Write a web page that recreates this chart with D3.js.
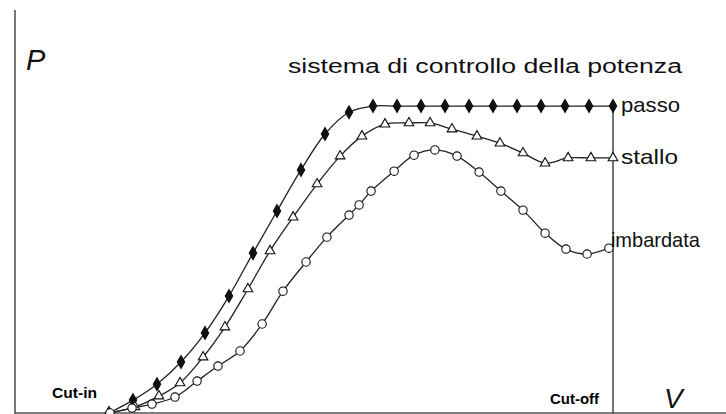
<!DOCTYPE html>
<html>
<head>
<meta charset="utf-8">
<script src="https://cdn.jsdelivr.net/npm/d3@7"></script>
<style>
  body { margin: 0; background: #fff; }
  svg { display: block; font-family: "Liberation Sans", Arial, sans-serif; }
</style>
</head>
<body>
<div id="chart"></div>
<script>
// wind speed V (arbitrary units) and power P (fraction of rated)
var vCutIn = 4;
var vCutOff = 25;

var passoV = [4, 5, 6, 7, 8, 9, 10, 11, 12, 13, 14, 15, 16, 17, 18, 19, 20, 21, 22, 23, 24, 25];
var passoP = [0, 0.042, 0.094, 0.166, 0.261, 0.381, 0.521, 0.658, 0.792, 0.909, 0.98, 1, 1, 1, 1, 1, 1, 1, 1, 1, 1, 1];

var stalloV = [4, 5.08, 6.08, 6.96, 7.92, 8.83, 9.79, 10.71, 11.67, 12.67, 13.63, 14.54, 15.5, 16.5, 17.38, 18.29, 19.33, 20.29, 21.25, 22.17, 23.13, 24.08, 25];
var stalloP = [0, 0.02, 0.055, 0.098, 0.182, 0.28, 0.404, 0.528, 0.638, 0.746, 0.837, 0.902, 0.941, 0.945, 0.945, 0.925, 0.902, 0.879, 0.847, 0.814, 0.831, 0.831, 0.831];

var imbV = [4.04, 4.96, 5.79, 6.75, 7.67, 8.54, 9.46, 10.38, 11.25, 12.21, 13.08, 14.0, 14.42, 14.92, 15.88, 16.71, 17.58, 18.5, 19.42, 20.33, 21.25, 22.17, 23.04, 23.92, 24.83];
var imbP = [0, 0.016, 0.029, 0.052, 0.104, 0.153, 0.202, 0.29, 0.397, 0.492, 0.573, 0.645, 0.678, 0.723, 0.788, 0.84, 0.857, 0.837, 0.785, 0.723, 0.661, 0.586, 0.534, 0.518, 0.537];

var seriesNames = ["passo", "stallo", "imbardata"];

var svgWidth = 726;
var svgHeight = 414;

var svg = d3.select("#chart")
  .append("svg")
  .attr("width", svgWidth)
  .attr("height", svgHeight);

var x = d3.scaleLinear().domain([0, 30]).range([13, 733]);
var y = d3.scaleLinear().domain([0, 1.3]).range([413, 14]);

// axes (plain lines, no ticks)
svg.append("line")
  .attr("x1", 15).attr("x2", 15)
  .attr("y1", 10).attr("y2", svgHeight)
  .attr("stroke", "#777").attr("stroke-width", 2);
svg.append("line")
  .attr("x1", 15).attr("x2", svgWidth)
  .attr("y1", y(0)).attr("y2", y(0))
  .attr("stroke", "#555").attr("stroke-width", 1.5);

// cut-off line
svg.append("line")
  .attr("x1", x(vCutOff)).attr("x2", x(vCutOff))
  .attr("y1", y(1)).attr("y2", svgHeight)
  .attr("stroke", "#444").attr("stroke-width", 1.5);

function zip(vs, ps) {
  return vs.map(function(v, i) { return { v: v, p: ps[i] }; });
}

var series = [
  { name: seriesNames[0], data: zip(passoV, passoP), symbol: d3.symbolDiamond, size: 48, fill: "#111", dx: 8, dy: 6, len: 59 },
  { name: seriesNames[1], data: zip(stalloV, stalloP), symbol: d3.symbolTriangle, size: 40, fill: "#fff", dx: 8, dy: 6, len: 57 },
  { name: seriesNames[2], data: zip(imbV, imbP), symbol: d3.symbolCircle, size: 55, fill: "#fff", dx: 2, dy: -1, len: 89 }
];

var line = d3.line()
  .x(d => x(d.v))
  .y(d => y(d.p))
  .curve(d3.curveCatmullRom.alpha(0.5));

series.forEach(function(s) {
  svg.append("path")
    .datum(s.data)
    .attr("d", line)
    .attr("fill", "none")
    .attr("stroke", "#222")
    .attr("stroke-width", 1.3);

  svg.selectAll(null)
    .data(s.data)
    .enter()
    .append("path")
    .attr("d", d3.symbol().type(s.symbol).size(s.size))
    .attr("transform", d => `translate(${x(d.v)}, ${y(d.p)})`)
    .attr("fill", s.fill)
    .attr("stroke", "#111")
    .attr("stroke-width", 1.1);

  var last = s.data[s.data.length - 1];
  svg.append("text")
    .attr("x", x(last.v) + s.dx)
    .attr("y", y(last.p) + s.dy)
    .attr("font-size", 21)
    .attr("textLength", s.len)
    .attr("lengthAdjust", "spacingAndGlyphs")
    .attr("fill", "#111")
    .text(s.name);
});

// titles
svg.append("text")
  .attr("x", 288).attr("y", 73)
  .attr("font-size", 20)
  .attr("textLength", 394)
  .attr("lengthAdjust", "spacingAndGlyphs")
  .attr("fill", "#111")
  .text("sistema di controllo della potenza");

svg.append("text")
  .attr("x", 26).attr("y", 70)
  .attr("font-size", 29)
  .attr("font-style", "italic")
  .attr("fill", "#111")
  .text("P");

svg.append("text")
  .attr("x", 664).attr("y", 408)
  .attr("font-size", 28)
  .attr("font-style", "italic")
  .attr("fill", "#111")
  .text("V");

svg.append("text")
  .attr("x", 52).attr("y", 398)
  .attr("font-size", 15)
  .attr("font-weight", "bold")
  .attr("textLength", 45)
  .attr("lengthAdjust", "spacingAndGlyphs")
  .text("Cut-in");

svg.append("text")
  .attr("x", 550).attr("y", 404)
  .attr("font-size", 15)
  .attr("font-weight", "bold")
  .attr("textLength", 49)
  .attr("lengthAdjust", "spacingAndGlyphs")
  .text("Cut-off");
</script>
</body>
</html>
